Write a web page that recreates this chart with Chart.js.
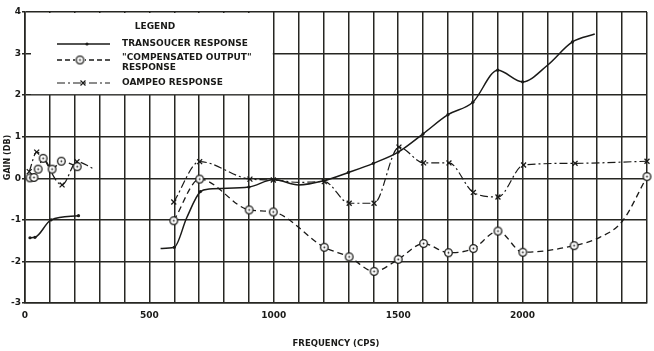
<!DOCTYPE html>
<html>
<head>
<meta charset="utf-8">
<script src="https://cdn.jsdelivr.net/npm/chart.js@4.4.1/dist/chart.umd.min.js"></script>
<style>
  html, body { margin: 0; padding: 0; background: #fff; }
</style>
</head>
<body>
<canvas id="gainChart" width="654" height="351"></canvas>
<script>
// frequency (cps) and gain (db); null = break in the curve
const transFreq = [20, 40, 105, 215, 400, 545, 600, 650, 705, 740, 900, 1000, 1100, 1200, 1300, 1400, 1500, 1600, 1700, 1800, 1900, 2000, 2100, 2200, 2290];
const transGain = [-1.43, -1.42, -1.0, -0.9, null, -1.69, -1.66, -0.95, -0.32, -0.26, -0.21, -0.03, -0.16, -0.06, 0.14, 0.36, 0.63, 1.07, 1.53, 1.83, 2.6, 2.32, 2.72, 3.28, 3.47];
const transCurveOnly = [545, 650, 740, 1100, 2100, 2290];

const compFreq = [20, 36, 53, 73, 109, 146, 210, 400, 598, 702, 901, 998, 1203, 1303, 1403, 1500, 1602, 1702, 1802, 1901, 2001, 2207, 2310, 2400, 2500];
const compGain = [0.01, 0.02, 0.22, 0.48, 0.22, 0.41, 0.28, null, -1.02, -0.02, -0.76, -0.81, -1.66, -1.89, -2.24, -1.95, -1.57, -1.79, -1.69, -1.27, -1.78, -1.62, -1.42, -1.04, 0.04];
const compCurveOnly = [2310, 2400];

const dampFreq = [17, 47, 149, 209, 272, 400, 598, 702, 904, 998, 1100, 1203, 1303, 1403, 1503, 1602, 1704, 1802, 1901, 2004, 2211, 2500];
const dampGain = [0.16, 0.63, -0.16, 0.40, 0.24, null, -0.57, 0.40, -0.02, -0.04, -0.1, -0.08, -0.6, -0.6, 0.75, 0.37, 0.37, -0.34, -0.45, 0.32, 0.36, 0.41];
const dampCurveOnly = [272, 1100];

const freqTickLabels = [0, 500, 1000, 1500, 2000];
const gainTicks = [-3, -2, -1, 0, 1, 2, 3, 4];

const seriesNames = ['TRANSOUCER RESPONSE', '"COMPENSATED OUTPUT"', 'RESPONSE', 'OAMPEO RESPONSE'];

const ink = '#1a1a18';
const gridInk = '#262622';
const font = '"DejaVu Sans", sans-serif';

function toPoints(freq, gain) {
    return freq.map((f, i) => ({ x: f, y: gain[i] }));
}

// circle with a dot in the middle, the "compensated output" mark
const ringMark = document.createElement('canvas');
ringMark.width = 11; ringMark.height = 11;
(function () {
    const c = ringMark.getContext('2d');
    c.fillStyle = '#fff';
    c.strokeStyle = ink;
    c.lineWidth = 1.3;
    c.beginPath(); c.arc(5.5, 5.5, 3.8, 0, Math.PI * 2); c.fill(); c.stroke();
    c.fillStyle = ink;
    c.beginPath(); c.arc(5.5, 5.5, 0.9, 0, Math.PI * 2); c.fill();
})();

function markRadius(freq, skip, r) {
    return ctx => skip.includes(freq[ctx.dataIndex]) ? 0 : r;
}

const legendBox = {
    id: 'legendBox',
    beforeDatasetsDraw(chart) {
        const { ctx, scales: { x, y } } = chart;
        const l = x.getPixelForValue(0) + 6, r = x.getPixelForValue(1000) - 1;
        const t = y.getPixelForValue(4) + 1, b = y.getPixelForValue(2) - 1;
        const x0 = chart.chartArea.left, y0 = chart.chartArea.top;
        ctx.save();
        ctx.fillStyle = '#fff';
        ctx.fillRect(l, t, r - l, b - t);

        ctx.fillStyle = ink;
        ctx.strokeStyle = ink;
        ctx.textBaseline = 'middle';
        ctx.font = 'bold 9px ' + font;
        ctx.textAlign = 'center';
        ctx.fillText('LEGEND', x0 + 130, y0 + 15);
        ctx.textAlign = 'left';
        ctx.fillText(seriesNames[0], x0 + 97, y0 + 32);
        ctx.fillText(seriesNames[1], x0 + 97, y0 + 46);
        ctx.fillText(seriesNames[2], x0 + 97, y0 + 56);
        ctx.fillText(seriesNames[3], x0 + 97, y0 + 71);

        const sx1 = x0 + 32, sx2 = x0 + 85;
        const sample = (yy, width, dash) => {
            ctx.lineWidth = width;
            ctx.setLineDash(dash);
            ctx.beginPath(); ctx.moveTo(sx1, yy); ctx.lineTo(sx2, yy); ctx.stroke();
            ctx.setLineDash([]);
        };
        sample(y0 + 32, 1.5, []);
        Chart.helpers.drawPoint(ctx, { pointStyle: 'circle', radius: 1.6, borderWidth: 0, rotation: 0 }, x0 + 62, y0 + 32);
        sample(y0 + 48, 1.3, [5, 3]);
        ctx.fillStyle = '#fff';
        ctx.fillRect(x0 + 50, y0 + 43, 10, 10);
        Chart.helpers.drawPoint(ctx, { pointStyle: ringMark, radius: 4, borderWidth: 0, rotation: 0 }, x0 + 55, y0 + 48);
        ctx.fillStyle = ink;
        sample(y0 + 71, 1.2, [8, 3, 2, 3]);
        Chart.helpers.drawPoint(ctx, { pointStyle: 'crossRot', radius: 3.5, borderWidth: 1.3, rotation: 0 }, x0 + 58, y0 + 71);
        ctx.restore();
    }
};

new Chart(document.getElementById('gainChart').getContext('2d'), {
    type: 'line',
    data: {
        datasets: [
            {
                label: seriesNames[0],
                data: toPoints(transFreq, transGain),
                borderColor: ink,
                backgroundColor: ink,
                borderWidth: 1.5,
                pointStyle: 'circle',
                pointRadius: markRadius(transFreq, transCurveOnly, 1.6),
                pointBorderWidth: 0,
                cubicInterpolationMode: 'monotone',
                spanGaps: false,
                clip: 8
            },
            {
                label: seriesNames[1],
                data: toPoints(compFreq, compGain),
                borderColor: ink,
                backgroundColor: '#fff',
                borderWidth: 1.3,
                borderDash: [6, 4],
                pointStyle: ringMark,
                pointRadius: markRadius(compFreq, compCurveOnly, 4),
                cubicInterpolationMode: 'monotone',
                spanGaps: false,
                clip: 8
            },
            {
                label: seriesNames[3],
                data: toPoints(dampFreq, dampGain),
                borderColor: ink,
                backgroundColor: ink,
                borderWidth: 1.2,
                borderDash: [8, 3, 2, 3],
                pointStyle: 'crossRot',
                pointRadius: markRadius(dampFreq, dampCurveOnly, 3.5),
                pointBorderWidth: 1.3,
                cubicInterpolationMode: 'monotone',
                spanGaps: false,
                clip: 8
            }
        ]
    },
    options: {
        responsive: false,
        devicePixelRatio: 1,
        animation: false,
        layout: { padding: { top: 12, right: 2, left: 0, bottom: 0 } },
        plugins: {
            legend: { display: false },
            tooltip: { enabled: false }
        },
        scales: {
            x: {
                type: 'linear',
                min: 0,
                max: 2500,
                afterFit: s => { s.height = 48; },
                grid: { color: gridInk, lineWidth: 1.5, drawTicks: false },
                border: { color: gridInk, width: 1.6 },
                ticks: {
                    stepSize: 100,
                    autoSkip: false,
                    maxRotation: 0,
                    padding: 7,
                    color: ink,
                    font: { family: font, size: 9, weight: 'bold' },
                    callback: v => freqTickLabels.includes(v) ? String(v) : ''
                },
                title: {
                    display: true,
                    text: 'FREQUENCY (CPS)',
                    color: ink,
                    padding: { top: 0, bottom: 2 },
                    font: { family: font, size: 8.5, weight: 'bold' }
                }
            },
            y: {
                min: -3,
                max: 4,
                afterFit: s => { s.width = 25; },
                grid: { color: gridInk, lineWidth: 1.5, tickLength: 3 },
                border: { color: gridInk, width: 1.6 },
                afterBuildTicks: s => { s.ticks = gainTicks.map(v => ({ value: v })); },
                ticks: {
                    padding: 1,
                    color: ink,
                    font: { family: font, size: 9, weight: 'bold' },
                    callback: v => String(v)
                },
                title: {
                    display: true,
                    text: 'GAIN (DB)',
                    color: ink,
                    padding: { top: 3, bottom: 0 },
                    font: { family: font, size: 8, weight: 'bold' }
                }
            }
        }
    },
    plugins: [legendBox]
});
</script>
</body>
</html>
